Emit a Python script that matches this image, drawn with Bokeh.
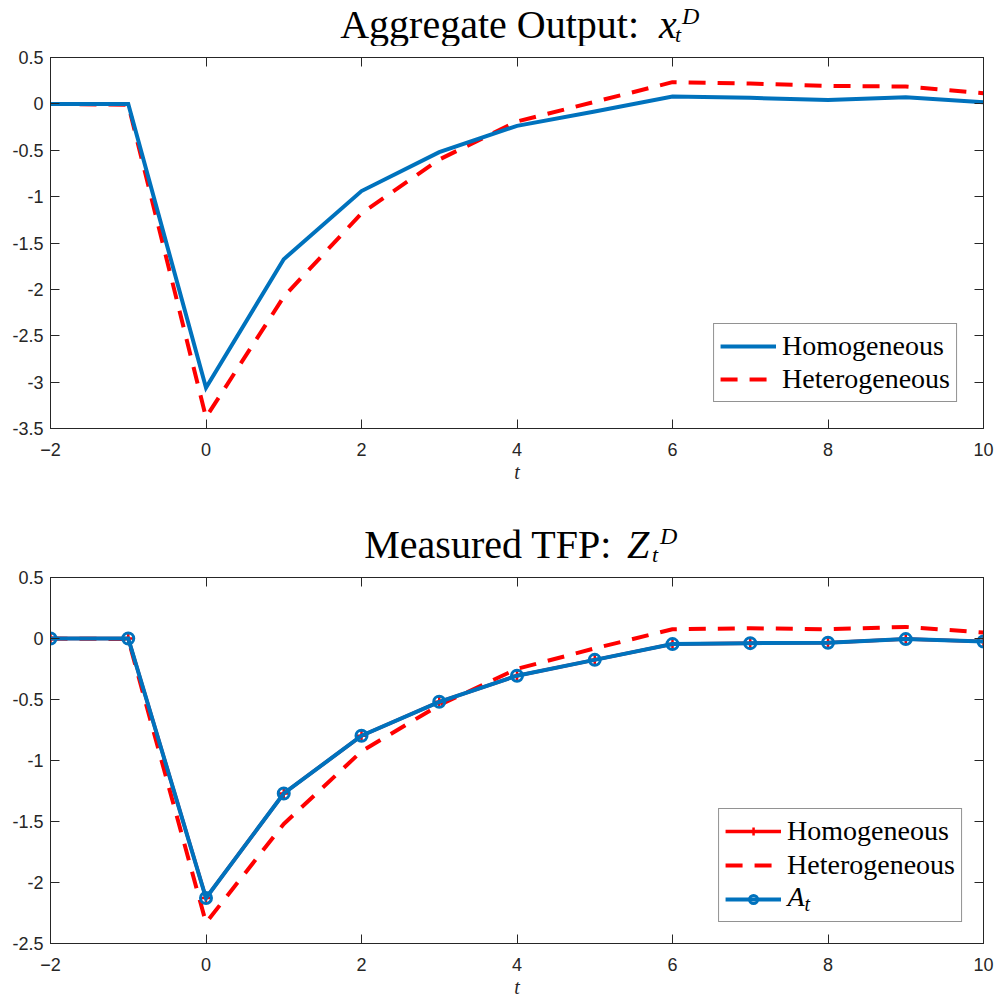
from bokeh.plotting import figure
from bokeh.layouts import column
from bokeh.models import (LinearAxis, FixedTicker, CustomJSTickFormatter,
                          Legend, LegendItem, Range1d)
from bokeh.core.properties import value
from bokeh.embed import file_html
from bokeh.resources import INLINE

# Impulse responses, quarters relative to the shock
periods = [-2, -1, 0, 1, 2, 3, 4, 5, 6, 7, 8, 9, 10]

# Aggregate output x_t^D
output_homogeneous = [0.0, 0.0, -3.06, -1.675, -0.94, -0.52, -0.237, -0.083, 0.079, 0.065, 0.043, 0.072, 0.018]
output_heterogeneous = [0.0, -0.01, -3.38, -2.08, -1.18, -0.60, -0.19, 0.022, 0.234, 0.22, 0.194, 0.187, 0.115]

# Measured TFP Z_t^D and the technology shock A_t
tfp_homogeneous = [0.0, 0.0, -2.127, -1.27, -0.797, -0.519, -0.305, -0.175, -0.046, -0.038, -0.035, -0.005, -0.024]
tfp_heterogeneous = [0.0, -0.005, -2.33, -1.52, -0.925, -0.546, -0.249, -0.081, 0.076, 0.084, 0.076, 0.095, 0.049]
tfp_shock = [0.0, 0.0, -2.127, -1.27, -0.797, -0.519, -0.305, -0.175, -0.046, -0.038, -0.035, -0.005, -0.024]

x_ticks = [-2, 0, 2, 4, 6, 8, 10]
output_y_ticks = [0.5, 0, -0.5, -1, -1.5, -2, -2.5, -3, -3.5]
tfp_y_ticks = [0.5, 0, -0.5, -1, -1.5, -2, -2.5]

BLUE = "#0072BD"
RED = "#FF0000"
AX = "#262626"
SERIF = "Liberation Serif"
SANS = "Liberation Sans"
WIDTH = 998
MID = 0.3375  # em distance from baseline up to the text's vertical middle


def style_axis(ax, ticks, labelled):
    ax.ticker = FixedTicker(ticks=ticks)
    ax.axis_line_color = AX
    ax.axis_line_width = 1
    ax.major_tick_line_color = AX
    ax.major_tick_in = 9
    ax.major_tick_out = 0
    ax.minor_tick_line_color = None
    if labelled:
        ax.major_label_text_font = SANS
        ax.major_label_text_font_size = "18px"
        ax.major_label_text_color = AX
    else:
        ax.formatter = CustomJSTickFormatter(code="return ''")
        ax.major_label_text_font_size = "0px"
        ax.major_label_standoff = 0


def make_panel(height, bottom, y_lo, y_hi, y_ticks):
    p = figure(width=WIDTH, height=height,
               x_range=Range1d(-2, 10), y_range=Range1d(y_lo, y_hi),
               output_backend="svg", toolbar_location=None,
               min_border_left=50, min_border_right=15,
               min_border_top=11, min_border_bottom=bottom)
    p.grid.visible = False
    p.outline_line_color = AX
    p.background_fill_color = "white"
    p.border_fill_color = "white"

    style_axis(p.xaxis[0], x_ticks, True)
    p.xaxis[0].major_label_standoff = 14
    style_axis(p.yaxis[0], y_ticks, True)
    p.yaxis[0].formatter = CustomJSTickFormatter(
        code="return (Math.round(tick*10)/10).toString()")
    p.yaxis[0].major_label_standoff = 7

    p.xaxis[0].axis_label = "t"
    p.xaxis[0].axis_label_text_font = SERIF
    p.xaxis[0].axis_label_text_font_style = "italic"
    p.xaxis[0].axis_label_text_font_size = "20px"
    p.xaxis[0].axis_label_text_color = AX
    p.xaxis[0].axis_label_standoff = 2

    right = LinearAxis()
    style_axis(right, y_ticks, False)
    p.add_layout(right, "right")
    above = LinearAxis()
    style_axis(above, x_ticks, False)
    p.add_layout(above, "above")
    return p


def put_text(p, x, y, text, size, italic=False, align="left", x_offset=0):
    """Place text so that its alphabetic baseline sits at y."""
    return p.text(x=[x], y=[y], text=[text], x_offset=x_offset,
                  text_font=value(SERIF), text_font_size=f"{size}px",
                  text_font_style="italic" if italic else "normal",
                  text_color="black", text_align=align, text_baseline="middle")


def make_title(height, base, roman, sym, roman_end, sym_start, sub_start, sup_start):
    """Title strip sharing the panel's horizontal scale; y counts pixels down."""
    t = figure(width=WIDTH, height=height, title=None,
               x_axis_location=None, y_axis_location=None,
               x_range=Range1d(-2, 10), y_range=Range1d(height, 0),
               output_backend="svg", toolbar_location=None,
               min_border_left=50, min_border_right=15,
               min_border_top=0, min_border_bottom=0)
    t.grid.visible = False
    t.outline_line_color = None
    t.background_fill_color = "white"
    t.border_fill_color = "white"
    for txt, size, b, italic, align, dx in (
            (roman, 40, base, False, "right", roman_end),
            (sym, 40, base, True, "left", sym_start),
            ("t", 22, base + 4, True, "left", sub_start),
            ("D", 24, base - 13, True, "left", sup_start)):
        put_text(t, 4, b - MID * size, txt, size, italic=italic, align=align, x_offset=dx)
    return t


def make_legend(items, margin, spacing):
    return Legend(items=items, location="bottom_right", margin=margin,
                  label_text_font=SERIF, label_text_font_size="28px",
                  label_text_color="black", glyph_width=56, glyph_height=20,
                  label_height=32, label_standoff=6, padding=6, spacing=spacing,
                  border_line_color=AX, border_line_width=1,
                  background_fill_color=None)


# ---- Aggregate output ----
title_top = make_title(46, 37, "Aggregate Output:", "x", 122, 142, 158, 165)
top = make_panel(454, 72, -3.5, 0.5, output_y_ticks)
r_het = top.line(periods, output_heterogeneous, line_color=RED, line_width=4,
                 line_dash="17 12")
r_hom = top.line(periods, output_homogeneous, line_color=BLUE, line_width=4,
                 line_join="miter")
top.add_layout(make_legend([LegendItem(label="Homogeneous", renderers=[r_hom]),
                            LegendItem(label="Heterogeneous", renderers=[r_het])], 26, 1))

# ---- Measured TFP ----
title_bot = make_title(66, 57, "Measured TFP:", "Z", 95, 110, 135, 143)
bot = make_panel(434, 53, -2.5, 0.5, tfp_y_ticks)
h_line = bot.line(periods, tfp_homogeneous, line_color=RED, line_width=3.5,
                  line_join="miter")
h_mark = bot.scatter(periods, tfp_homogeneous, marker="cross", size=12,
                     line_color=RED, line_width=2.5)
e_line = bot.line(periods, tfp_heterogeneous, line_color=RED, line_width=4,
                  line_dash="17 12")
a_line = bot.line(periods, tfp_shock, line_color=BLUE, line_width=4,
                  line_join="miter")
a_mark = bot.scatter(periods, tfp_shock, marker="circle", size=11,
                     line_color=BLUE, line_width=3, fill_color=None)
bot.add_layout(make_legend([LegendItem(label="Homogeneous", renderers=[h_line, h_mark]),
                            LegendItem(label="Heterogeneous", renderers=[e_line]),
                            LegendItem(label=" ", renderers=[a_line, a_mark])], 21, 2))

# A_t entry of the legend: italic symbol with subscript inside the (transparent) box.
# Baselines are given in pixels below the frame top and converted to data units.
frame_px = 370
y_per_px = (0.5 - (-2.5)) / frame_px
for txt, size, base, dx in (("A", 28, 332, -196), ("t", 20, 337, -179)):
    put_text(bot, 10, 0.5 - (base - MID * size) * y_per_px, txt, size,
             italic=True, x_offset=dx)

layout = column(title_top, top, title_bot, bot, spacing=0)
open("out.html", "w").write(file_html(layout, INLINE))
